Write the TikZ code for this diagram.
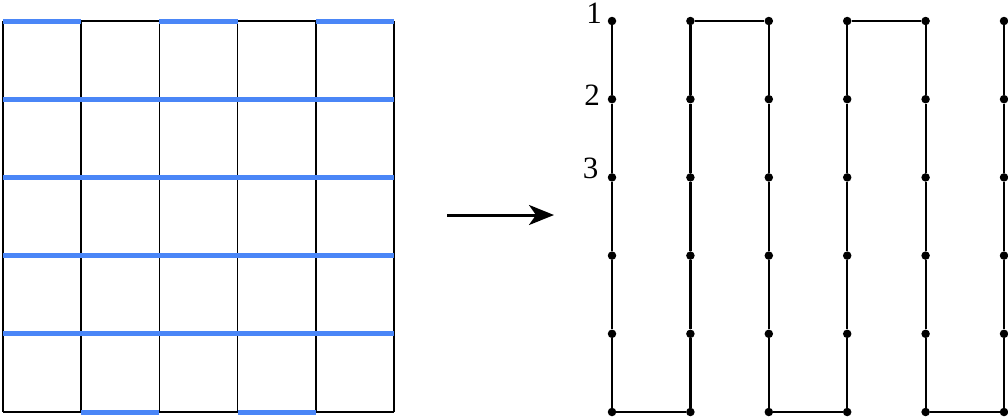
\documentclass[tikz,border=0pt]{standalone}
\usepackage{fontspec}
\setmainfont{Liberation Serif}
\usetikzlibrary{arrows.meta}
\definecolor{gridblue}{RGB}{74,134,247}
\begin{document}
\begin{tikzpicture}[x=1pt,y=-1pt,
  gridline/.style={line width=1.6pt,black},
  blueline/.style={line width=5pt,gridblue},
  pathline/.style={line width=2.2pt,black},
  dot/.style={circle,fill=black,inner sep=0pt,minimum size=8.5pt},
  lbl/.style={font=\fontsize{31}{31}\selectfont,inner sep=0pt}]
\useasboundingbox (0,0) rectangle (1008,416);
% left grid
\foreach \i in {0,...,5} {
  \coordinate (g-\i-0) at ({3+78.2*\i},21);
  \coordinate (g-\i-5) at ({3+78.2*\i},412);
  \coordinate (h-0-\i) at (3,{21+78.2*\i});
  \coordinate (h-5-\i) at ({3+78.2*5},{21+78.2*\i});
}
\foreach \i in {0,...,5} {
  \draw[gridline] (g-\i-0) -- (g-\i-5);
  \draw[gridline] (h-0-\i) -- (h-5-\i);
}
\foreach \i in {1,...,4} \draw[blueline] (h-0-\i) -- (h-5-\i);
\draw[blueline] (g-0-0) -- (g-1-0);
\draw[blueline] (g-2-0) -- (g-3-0);
\draw[blueline] (g-4-0) -- (g-5-0);
\draw[blueline] (g-1-5) -- (g-2-5);
\draw[blueline] (g-3-5) -- (g-4-5);
% arrow
\coordinate (a1) at (447,215);
\coordinate (a2) at (554,215);
\draw[line width=3pt,-{Stealth[length=25pt,width=20pt,inset=7pt]}] (a1) -- (a2);
% right path
\foreach \i in {0,...,5} {
  \foreach \j in {0,...,5} {
    \node[dot] (p-\i-\j) at ({612+78.4*\i},{21+78.2*\j}) {};
  }
}
\foreach \i in {0,...,5} {
  \draw[pathline] (p-\i-0) -- (p-\i-1) -- (p-\i-2) -- (p-\i-3) -- (p-\i-4) -- (p-\i-5);
}
\draw[pathline] (p-1-0) -- (p-2-0);
\draw[pathline] (p-3-0) -- (p-4-0);
\draw[pathline] (p-0-5) -- (p-1-5);
\draw[pathline] (p-2-5) -- (p-3-5);
\draw[pathline] (p-4-5) -- (p-5-5);
% labels
\node[lbl] (l1) at (594,13.5) {1};
\node[lbl] (l2) at (592,95) {2};
\node[lbl] (l3) at (590.5,168.5) {3};
\end{tikzpicture}
\end{document}
